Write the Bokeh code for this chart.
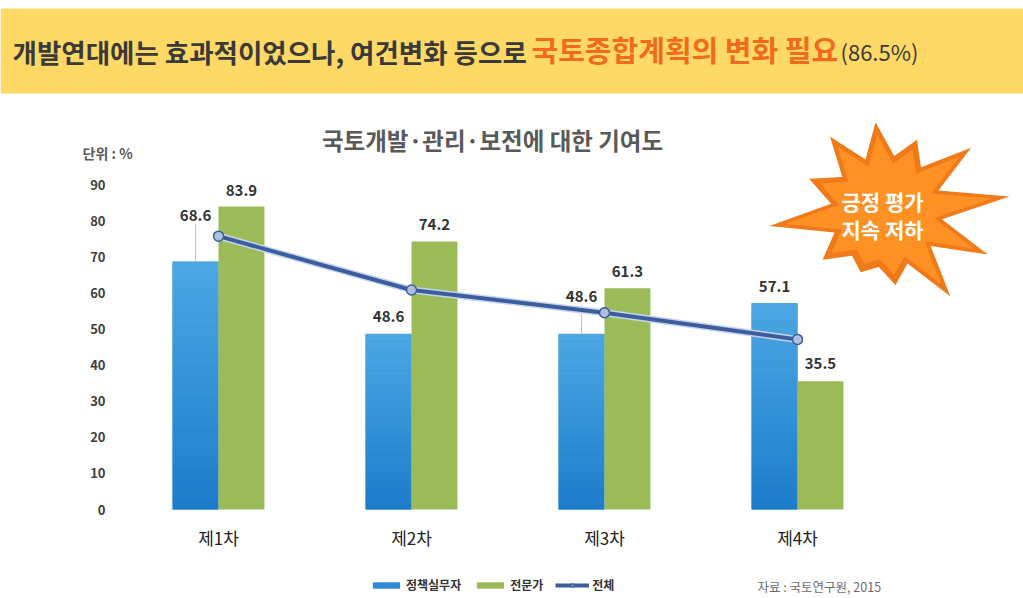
import numpy as np
from bokeh.plotting import figure
from bokeh.models import (Range1d, FixedTicker, Label, Legend, LegendItem, ColumnDataSource,
                          LinearAxis)
from bokeh.core.properties import value
from bokeh.embed import file_html
from bokeh.resources import INLINE

# ---------------- data ----------------
categories = ["제1차", "제2차", "제3차", "제4차"]
practitioners = [68.6, 48.6, 48.6, 57.1]   # 정책실무자
experts = [83.9, 74.2, 61.3, 35.5]         # 전문가
overall = [75.7, 60.8, 54.5, 47.1]         # 전체
y_ticks = [0, 10, 20, 30, 40, 50, 60, 70, 80, 90]

headline_dark = "개발연대에는 효과적이었으나, 여건변화 등으로"
headline_orange = "국토종합계획의 변화 필요"
headline_pct = "(86.5%)"
chart_title = "국토개발·관리·보전에 대한 기여도"
unit_text = "단위 : %"
source_text = "자료 : 국토연구원, 2015"
burst_lines = ["긍정 평가", "지속 저하"]
series_names = ["정책실무자", "전문가", "전체"]

# ---------------- style ----------------
FONT = "Noto Sans CJK KR"
BLUE = "#2F8BD6"
BLUE_TOP = (76, 167, 226)
BLUE_BOTTOM = (28, 124, 203)
GREEN = "#9BBB59"
LINE = "#3A5D9F"
W, H = 1023, 598
X0, PXX = 218.0, 193.0      # canvas px of x=0 and px per category
Y0, PXY = 509.0, 3.611      # canvas px of y=0 and px per unit


def fx(px):  # canvas x px -> data x
    return (px - X0) / PXX


def fy(py):  # canvas y px (from top) -> data y
    return (Y0 - py) / PXY


p = figure(width=W, height=H, output_backend="svg", toolbar_location=None,
           x_range=Range1d(fx(0), fx(W)), y_range=Range1d(fy(H), fy(0)),
           x_axis_type=None, y_axis_type=None, min_border=0,
           outline_line_color=None, background_fill_color="white", border_fill_color="white")
p.grid.visible = False

# ---------------- banner ----------------
p.quad(left=[fx(0)], right=[fx(W)], top=[fy(8)], bottom=[fy(93)], fill_color="#FFD966",
       line_color=None)
p.text(x=[fx(12)], y=[fy(50.5)], text=[headline_dark], text_font=value(FONT),
       text_font_size="26.5px", text_font_style="bold", text_color="#3A3A3A",
       text_baseline="middle", text_align="left")
p.text(x=[fx(531)], y=[fy(48)], text=[headline_orange], text_font=value(FONT),
       text_font_size="29px", text_font_style="bold", text_color="#F26B1D",
       text_baseline="middle", text_align="left")
p.text(x=[fx(840)], y=[fy(50)], text=[headline_pct], text_font=value(FONT),
       text_font_size="22px", text_color="#3A3A3A", text_baseline="middle", text_align="left")

xs = np.arange(len(categories), dtype=float)
bw = 0.238
off = 0.119
src = ColumnDataSource(dict(x=xs, xb=xs - off, xg=xs + off, prac=practitioners, exp=experts,
                            tot=overall))

# ---------------- starburst (decoration) ----------------
cx, cy = fx(886), fy(211)
angles = np.deg2rad(np.arange(12) * 30.0 - 97.0)
outer_r = np.array([90, 78, 106, 124, 110, 106, 74, 66, 80, 118, 84, 94], dtype=float)
inner_r = 56.0
pts_x, pts_y = [], []
for i, a in enumerate(angles):
    pts_x.append(outer_r[i] * np.cos(a)); pts_y.append(outer_r[i] * np.sin(a))
    a2 = a + np.deg2rad(15)
    pts_x.append(inner_r * np.cos(a2)); pts_y.append(inner_r * np.sin(a2))
pts_x = np.array(pts_x); pts_y = np.array(pts_y)
p.patch(cx + pts_x / PXX, cy - pts_y / PXY, fill_color="#F07A1A", line_color=None)
p.patch(cx + 0.86 * pts_x / PXX, cy - 0.86 * pts_y / PXY, fill_color="#FF9124", line_color=None)
p.text(x=[fx(882)] * 2, y=[fy(200), fy(228)], text=burst_lines,
       text_font=value(FONT), text_font_size="21px", text_font_style="bold", text_color="white",
       text_align="center", text_baseline="middle")

# ---------------- bars ----------------
rb = p.vbar(x="xb", top="prac", width=bw, source=src, fill_color=BLUE, line_color=None)
# vertical shading of the blue bars (slices of each bar, light at top, dark at bottom)
N = 24
gx, gb, gt, gc = [], [], [], []
for i, v in enumerate(practitioners):
    for k in range(N):
        t = (k + 0.5) / N
        c = tuple(int(round(BLUE_BOTTOM[j] + (BLUE_TOP[j] - BLUE_BOTTOM[j]) * t)) for j in range(3))
        gx.append(xs[i] - off); gb.append(v * k / N); gt.append(v * (k + 1) / N + 0.05)
        gc.append("#%02x%02x%02x" % c)
p.vbar(x=gx, bottom=gb, top=gt, width=bw, fill_color=gc, line_color=None)
rg = p.vbar(x="xg", top="exp", width=bw, source=src, fill_color=GREEN, line_color=None)

# value labels (pixel offsets above bar tops)
blue_label_px = [46, 18, 38, 17]
green_label_px = [16, 17, 17, 18]
for i in range(len(categories)):
    if blue_label_px[i] > 25:
        p.segment(x0=[xs[i] - off], y0=[practitioners[i]], x1=[xs[i] - off],
                  y1=[practitioners[i] + (blue_label_px[i] - 9) / PXY],
                  line_color="#BFBFBF", line_width=1)
p.text(x=list(xs - off), y=practitioners, text=[f"{v:.1f}" for v in practitioners],
       y_offset=[-v for v in blue_label_px], text_font=value(FONT), text_font_size="15px",
       text_font_style="bold", text_color="#333333", text_align="center", text_baseline="middle")
p.text(x=list(xs + off), y=experts, text=[f"{v:.1f}" for v in experts],
       y_offset=[-v for v in green_label_px], text_font=value(FONT), text_font_size="15px",
       text_font_style="bold", text_color="#333333", text_align="center", text_baseline="middle")

# ---------------- overall line ----------------
p.line(x="x", y="tot", source=src, line_color="#C8D3E8", line_width=7)
rl = p.line(x="x", y="tot", source=src, line_color=LINE, line_width=4)
rs = p.scatter(x="x", y="tot", source=src, size=10, fill_color="#AFC0DC", line_color=LINE,
               line_width=1.5)

# ---------------- axes ----------------
yaxis = LinearAxis(fixed_location=fx(121), ticker=FixedTicker(ticks=y_ticks))
yaxis.axis_line_color = None
yaxis.major_tick_line_color = None
yaxis.minor_tick_line_color = None
yaxis.major_label_standoff = 10
yaxis.major_label_text_font = FONT
yaxis.major_label_text_font_size = "13px"
yaxis.major_label_text_font_style = "bold"
yaxis.major_label_text_color = "#404040"
p.add_layout(yaxis, "left")

xaxis = LinearAxis(fixed_location=0, ticker=FixedTicker(ticks=list(xs)))
xaxis.major_label_overrides = {int(i): c for i, c in enumerate(categories)}
xaxis.axis_line_color = None
xaxis.major_tick_line_color = None
xaxis.minor_tick_line_color = None
xaxis.major_label_standoff = 9
xaxis.major_label_text_font = FONT
xaxis.major_label_text_font_size = "17px"
xaxis.major_label_text_color = "#222222"
p.add_layout(xaxis, "below")

# ---------------- titles / notes ----------------
p.add_layout(Label(x=fx(492), y=fy(139), text=chart_title, text_font=FONT,
                   text_font_size="23.5px", text_font_style="bold", text_color="#595959",
                   text_align="center", text_baseline="middle"))
p.add_layout(Label(x=fx(82), y=fy(152), text=unit_text, text_font=FONT,
                   text_font_size="14px", text_font_style="bold", text_color="#595959",
                   text_align="left", text_baseline="middle"))
p.add_layout(Label(x=fx(757), y=fy(586), text=source_text, text_font=FONT,
                   text_font_size="12.5px", text_color="#6B6B6B",
                   text_align="left", text_baseline="middle"))

legend = Legend(items=[LegendItem(label=series_names[0], renderers=[rb]),
                       LegendItem(label=series_names[1], renderers=[rg]),
                       LegendItem(label=series_names[2], renderers=[rl, rs])],
                orientation="horizontal", location=(369, 5), padding=0, margin=0,
                spacing=12, glyph_width=34, glyph_height=8, label_standoff=3, label_height=12,
                label_text_font=FONT, label_text_font_size="12px", label_text_font_style="bold",
                label_text_color="#333333", background_fill_alpha=0, border_line_color=None)
p.add_layout(legend)

open("out.html", "w").write(file_html(p, INLINE))
